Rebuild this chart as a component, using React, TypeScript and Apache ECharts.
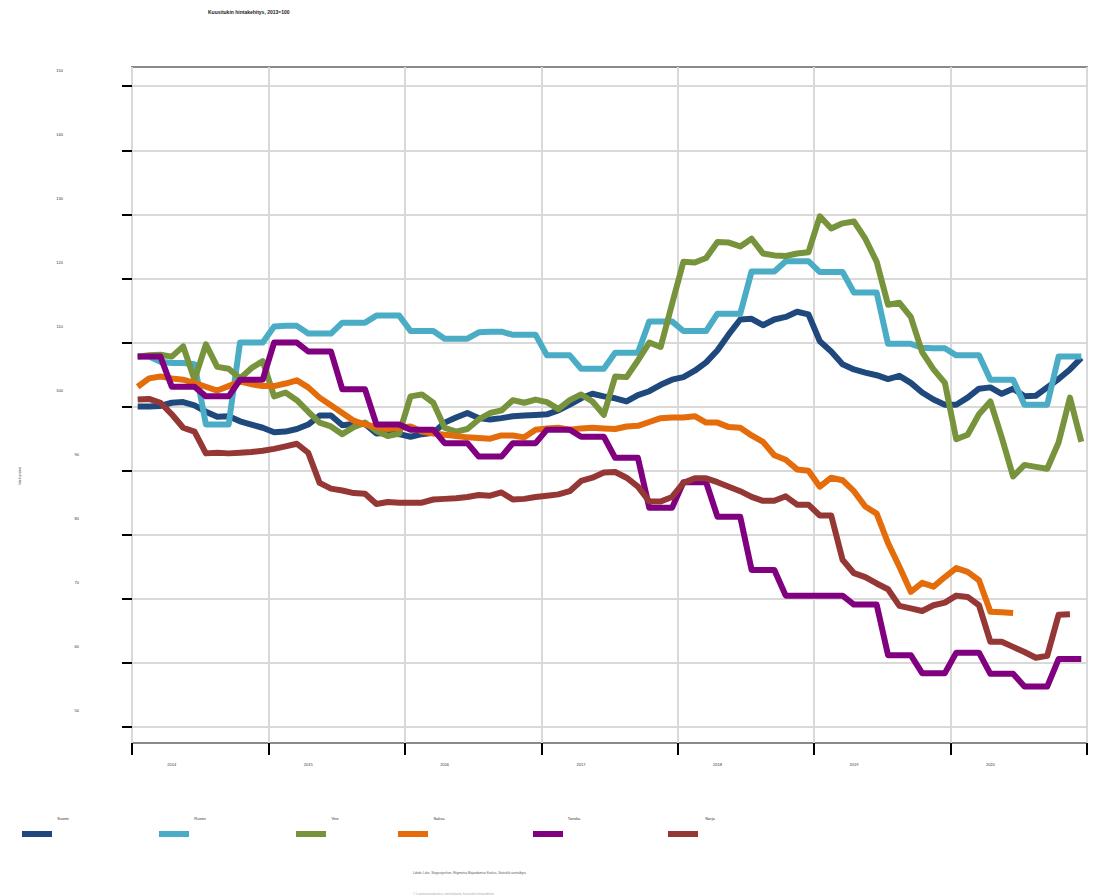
import React, { useEffect, useRef } from "react";
import * as echarts from "echarts";

const title = "Kuusitukin hintakehitys, 2013=100";
const yName = "Indeksipisteet";
const source1 = "Lähde: Luke, Skogsstyrelsen, Riigimetsa Majandamise Keskus, Statistikk sentralbyrå";
const source2 = "© Luonnonvarakeskus, metsätilastot, kuusitukin hintaindeksit";

const years = ["2014", "2015", "2016", "2017", "2018", "2019", "2020"];
const monthNums = ["01", "02", "03", "04", "05", "06", "07", "08", "09", "10", "11", "12"];
const categories: string[] = [];
years.forEach((y) => monthNums.forEach((m) => categories.push(`${y}-${m}`)));

const yTicks = [50, 60, 70, 80, 90, 100, 110, 120, 130, 140, 150];

const seriesNames = ["Suomi", "Ruotsi", "Viro", "Saksa", "Tanska", "Norja"];
const seriesColors = ["#1f497d", "#4bacc6", "#77933c", "#e46c0a", "#800080", "#953735"];

const suomi = [
  100.0, 100.0, 100.1, 100.6, 100.7, 100.2, 99.2, 98.4, 98.5, 97.7, 97.2, 96.7,
  96.0, 96.1, 96.5, 97.2, 98.6, 98.6, 97.1, 97.3, 97.3, 95.8, 95.9, 95.7,
  95.3, 95.7, 95.9, 97.5, 98.3, 99.0, 98.2, 98.0, 98.2, 98.5, 98.6, 98.7,
  98.8, 99.4, 100.3, 101.3, 102.0, 101.6, 101.3, 100.8, 101.8, 102.4, 103.4, 104.2,
  104.6, 105.6, 106.9, 108.8, 111.3, 113.6, 113.7, 112.7, 113.6, 114.0, 114.8, 114.4,
  110.2, 108.6, 106.6, 105.8, 105.3, 104.9, 104.3, 104.8, 103.7, 102.2, 101.1, 100.3,
  100.3, 101.4, 102.8, 103.0, 102.0, 102.8, 101.6, 101.7, 103.0, 104.3, 105.8, 107.6,
];
const ruotsi = [
  107.8, 107.8, 107.0, 106.8, 106.8, 106.6, 97.2, 97.2, 97.2, 110.0, 110.0, 110.0,
  112.5, 112.6, 112.6, 111.4, 111.4, 111.4, 113.1, 113.1, 113.1, 114.2, 114.2, 114.2,
  111.8, 111.8, 111.8, 110.6, 110.6, 110.6, 111.6, 111.7, 111.7, 111.2, 111.2, 111.2,
  108.0, 108.0, 108.0, 105.9, 105.9, 105.9, 108.4, 108.4, 108.4, 113.3, 113.3, 113.3,
  111.8, 111.8, 111.8, 114.5, 114.5, 114.5, 121.1, 121.1, 121.1, 122.7, 122.7, 122.7,
  121.0, 121.0, 121.0, 117.8, 117.8, 117.8, 109.8, 109.8, 109.8, 109.2, 109.1, 109.1,
  108.0, 108.0, 108.0, 104.2, 104.2, 104.2, 100.3, 100.3, 100.3, 107.8, 107.8, 107.8,
];
const viro = [
  107.8, 108.0, 108.1, 107.8, 109.4, 104.2, 109.7, 106.2, 105.9, 104.4, 106.0, 107.1,
  101.6, 102.2, 101.0, 99.2, 97.5, 96.9, 95.7, 96.8, 97.5, 96.2, 95.4, 95.8,
  101.6, 101.9, 100.6, 96.7, 96.1, 96.5, 98.0, 99.0, 99.4, 101.0, 100.6, 101.1,
  100.7, 99.6, 101.0, 101.9, 100.8, 98.7, 104.7, 104.6, 107.2, 110.0, 109.3, 116.0,
  122.6, 122.5, 123.2, 125.7, 125.6, 125.0, 126.2, 123.9, 123.6, 123.5, 123.9, 124.1,
  129.7, 127.8, 128.6, 128.9, 126.2, 122.6, 115.9, 116.2, 114.0, 108.5, 105.8, 103.7,
  94.9, 95.6, 98.8, 100.8, 95.2, 89.1, 90.9, 90.6, 90.3, 94.4, 101.4, 94.5,
];
const saksa = [
  103.1, 104.4, 104.7, 104.4, 104.2, 103.7, 103.1, 102.5, 103.2, 103.9, 103.5, 103.2,
  103.2, 103.6, 104.1, 103.0, 101.4, 100.2, 99.0, 97.8, 97.2, 96.8, 96.5, 96.7,
  96.9, 96.1, 95.8, 95.6, 95.4, 95.2, 95.1, 95.0, 95.5, 95.5, 95.2, 96.4,
  96.6, 96.7, 96.4, 96.6, 96.7, 96.6, 96.5, 96.9, 97.0, 97.6, 98.2, 98.3,
  98.3, 98.5, 97.5, 97.5, 96.8, 96.7, 95.5, 94.5, 92.4, 91.7, 90.2, 90.0,
  87.5, 88.9, 88.5, 86.8, 84.4, 83.3, 78.7, 75.0, 71.1, 72.5, 71.9, 73.4,
  74.8, 74.2, 72.9, 68.0, 67.9, 67.8, null, null, null, null, null, null,
];
const tanska = [
  107.8, 107.8, 107.8, 103.1, 103.1, 103.1, 101.6, 101.6, 101.6, 104.2, 104.2, 104.2,
  110.0, 110.0, 110.0, 108.6, 108.6, 108.6, 102.7, 102.7, 102.7, 97.2, 97.2, 97.2,
  96.4, 96.4, 96.4, 94.3, 94.3, 94.3, 92.2, 92.2, 92.2, 94.3, 94.3, 94.3,
  96.4, 96.4, 96.4, 95.3, 95.3, 95.3, 92.0, 92.0, 92.0, 84.2, 84.2, 84.2,
  88.2, 88.2, 88.2, 82.8, 82.8, 82.8, 74.5, 74.5, 74.5, 70.5, 70.5, 70.5,
  70.5, 70.5, 70.5, 69.1, 69.1, 69.1, 61.2, 61.2, 61.2, 58.4, 58.4, 58.4,
  61.6, 61.6, 61.6, 58.3, 58.3, 58.3, 56.3, 56.3, 56.3, 60.6, 60.6, 60.6,
];
const norja = [
  101.1, 101.2, 100.6, 98.8, 96.7, 96.1, 92.7, 92.8, 92.7, 92.8, 92.9, 93.1,
  93.4, 93.8, 94.2, 92.8, 88.1, 87.2, 86.9, 86.5, 86.4, 84.8, 85.1, 85.0,
  85.0, 85.0, 85.5, 85.6, 85.7, 85.9, 86.2, 86.1, 86.6, 85.5, 85.6, 85.9,
  86.1, 86.3, 86.8, 88.4, 88.9, 89.7, 89.8, 88.9, 87.5, 85.2, 85.2, 85.9,
  88.1, 88.8, 88.8, 88.2, 87.5, 86.8, 85.9, 85.3, 85.3, 86.0, 84.7, 84.7,
  83.0, 83.0, 76.1, 74.0, 73.4, 72.4, 71.5, 68.9, 68.5, 68.1, 69.0, 69.4,
  70.5, 70.3, 69.0, 63.3, 63.3, 62.5, 61.7, 60.8, 61.1, 67.5, 67.6, null,
];
const seriesData = [suomi, ruotsi, viro, saksa, tanska, norja];

const legendSwatchX = [22, 159, 296, 398, 533, 668];
const legendLabelX = [63, 200, 335, 439, 574, 710];

export default function App() {
  const ref = useRef<HTMLDivElement>(null);
  useEffect(() => {
    if (!ref.current) return;
    const chart = echarts.init(ref.current, undefined, { renderer: "svg" });
    const legendGraphics: any[] = [];
    seriesNames.forEach((name, i) => {
      legendGraphics.push({
        type: "rect",
        shape: { x: legendSwatchX[i], y: 831, width: 30, height: 6 },
        style: { fill: seriesColors[i] },
      });
      legendGraphics.push({
        type: "text",
        x: legendLabelX[i],
        y: 818,
        style: {
          text: name,
          fontSize: 4,
          fill: "#333",
          fontFamily: "Liberation Sans",
          align: "center",
          verticalAlign: "middle",
        },
      });
    });
    chart.setOption({
      animation: false,
      backgroundColor: "#ffffff",
      title: {
        text: title,
        left: 203,
        top: 4,
        textStyle: { fontSize: 5, fontWeight: "bold", color: "#222", fontFamily: "Liberation Sans" },
      },
      grid: {
        left: 132,
        right: 15,
        top: 67,
        bottom: 153,
        show: true,
        borderColor: "#8a8a8a",
        borderWidth: 2,
        containLabel: false,
      },
      xAxis: {
        type: "category",
        data: categories,
        boundaryGap: true,
        axisLine: { show: false },
        axisTick: {
          show: true,
          length: 12,
          interval: (idx: number) => idx % 12 === 0,
          lineStyle: { color: "#000", width: 2 },
        },
        axisLabel: {
          interval: (idx: number) => idx % 12 === 3,
          formatter: (v: string) => v.slice(0, 4),
          fontSize: 4,
          color: "#333",
          fontFamily: "Liberation Sans",
          margin: 19,
        },
        splitLine: {
          show: true,
          interval: (idx: number) => idx % 12 === 0,
          lineStyle: { color: "#d9d9d9", width: 2 },
        },
      },
      yAxis: {
        type: "value",
        min: 47.5,
        max: 153,
        splitNumber: 11,
        axisLine: { show: false },
        axisTick: {
          show: true,
          length: 10,
          customValues: yTicks,
          lineStyle: { color: "#000", width: 2 },
        },
        axisLabel: {
          customValues: yTicks,
          fontSize: 4,
          color: "#333",
          fontFamily: "Liberation Sans",
          margin: 53,
          align: "right",
          verticalAlign: "middle",
          formatter: (v: number) => (v >= 100 ? `{a|${v}}` : `{b|${v}}`),
          rich: {
            a: { fontSize: 4, color: "#333", padding: [0, 16, 32, 0] },
            b: { fontSize: 4, color: "#333", padding: [0, 0, 32, 0] },
          },
        },
        splitLine: { show: true, lineStyle: { color: "#d9d9d9", width: 2 } },
      },
      series: seriesNames.map((name, i) => ({
        name,
        type: "line",
        data: seriesData[i],
        symbol: "none",
        connectNulls: false,
        lineStyle: { color: seriesColors[i], width: 6, join: "round" },
        itemStyle: { color: seriesColors[i] },
      })),
      graphic: [
        ...legendGraphics,
        {
          type: "text",
          x: 20,
          y: 476,
          rotation: Math.PI / 2,
          style: {
            text: yName,
            fontSize: 3,
            fill: "#555",
            fontFamily: "Liberation Sans",
            align: "center",
            verticalAlign: "middle",
          },
        },
        {
          type: "text",
          x: 413,
          y: 873,
          style: { text: source1, fontSize: 3, fill: "#555", fontFamily: "Liberation Sans", verticalAlign: "middle" },
        },
        {
          type: "text",
          x: 413,
          y: 894,
          style: { text: source2, fontSize: 3, fill: "#aaa", fontFamily: "Liberation Sans", verticalAlign: "middle" },
        },
      ],
    });
    return () => chart.dispose();
  }, []);
  return <div ref={ref} style={{ width: 1102, height: 896, position: "absolute", left: 0, top: 0 }} />;
}
